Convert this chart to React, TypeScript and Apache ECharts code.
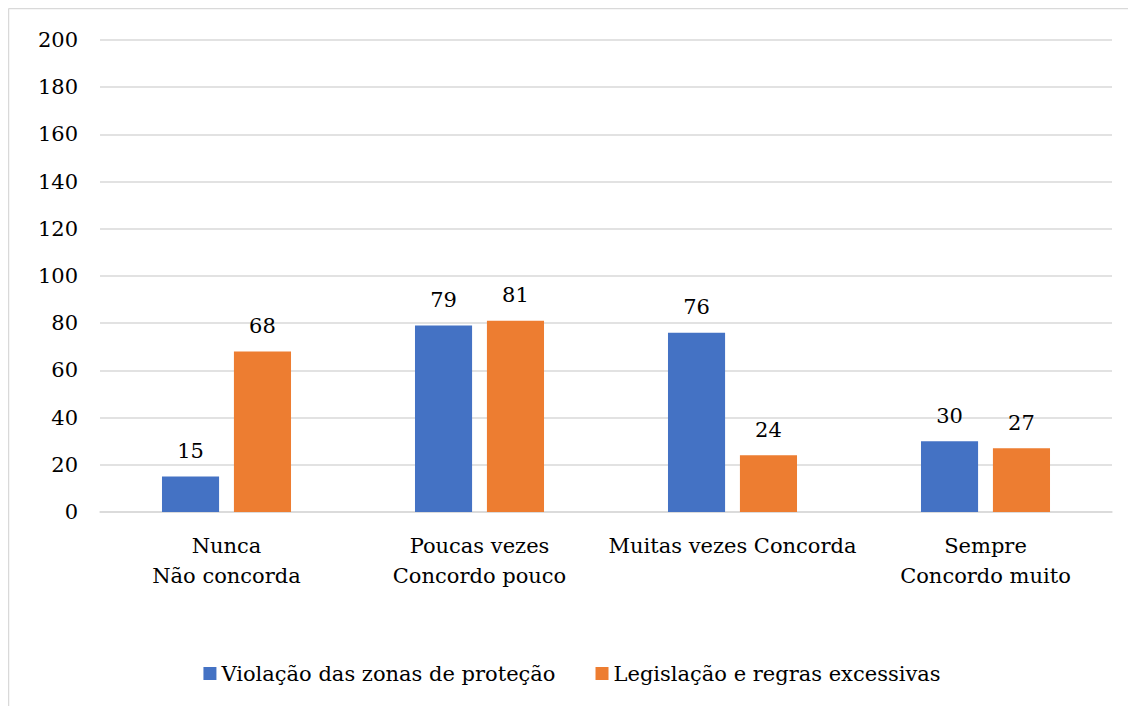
import React, { useEffect, useRef } from "react";
import * as echarts from "echarts";

const categories = ["Nunca\nNão concorda", "Poucas vezes\nConcordo pouco", "Muitas vezes Concorda", "Sempre\nConcordo muito"];
const seriesNames = ["Violação das zonas de proteção", "Legislação e regras excessivas"];
const violacao = [15, 79, 76, 30];
const legislacao = [68, 81, 24, 27];
const colors = ["#4472C4", "#ED7D31"];

const FONT = "DejaVu Serif";
const FS = 21;

export default function App() {
  const ref = useRef<HTMLDivElement>(null);
  useEffect(() => {
    document.body.style.overflow = "hidden";
    const chart = echarts.init(ref.current!, undefined, { renderer: "svg" });
    chart.setOption({
      animation: false,
      textStyle: { fontFamily: FONT },
      graphic: [
        { type: "line", shape: { x1: 0.5, y1: 0.5, x2: 0.5, y2: 700 }, style: { stroke: "#d9d9d9", lineWidth: 1.5 } },
        { type: "line", shape: { x1: 0.5, y1: 0.5, x2: 1200, y2: 0.5 }, style: { stroke: "#d9d9d9", lineWidth: 1.5 } },
      ],
      grid: { left: 92, right: 24, top: 32, bottom: 194, containLabel: false },
      legend: {
        bottom: 17,
        left: "center",
        itemWidth: 13,
        itemHeight: 13,
        itemGap: 40,
        icon: "rect",
        textStyle: { fontFamily: FONT, fontSize: FS, color: "#000" },
        data: seriesNames,
      },
      xAxis: {
        type: "category",
        data: categories,
        axisLine: { lineStyle: { color: "#d9d9d9", width: 1.5 } },
        axisTick: { show: false },
        axisLabel: { fontFamily: FONT, fontSize: FS, color: "#000", lineHeight: 30, margin: 19, interval: 0 },
      },
      yAxis: {
        type: "value",
        min: 0,
        max: 200,
        interval: 20,
        axisLine: { show: false },
        axisTick: { show: false },
        splitLine: { lineStyle: { color: "#d9d9d9", width: 1.5 } },
        axisLabel: { fontFamily: FONT, fontSize: FS, color: "#000", margin: 22 },
      },
      series: [violacao, legislacao].map((d, i) => ({
        type: "bar",
        name: seriesNames[i],
        data: d,
        itemStyle: { color: colors[i] },
        barGap: "26%",
        barCategoryGap: "49%",
        label: { show: true, position: "top", distance: 15, fontFamily: FONT, fontSize: FS, color: "#000" },
      })),
    });
    return () => chart.dispose();
  }, []);
  return <div ref={ref} style={{ width: 1128, height: 698 }} />;
}
